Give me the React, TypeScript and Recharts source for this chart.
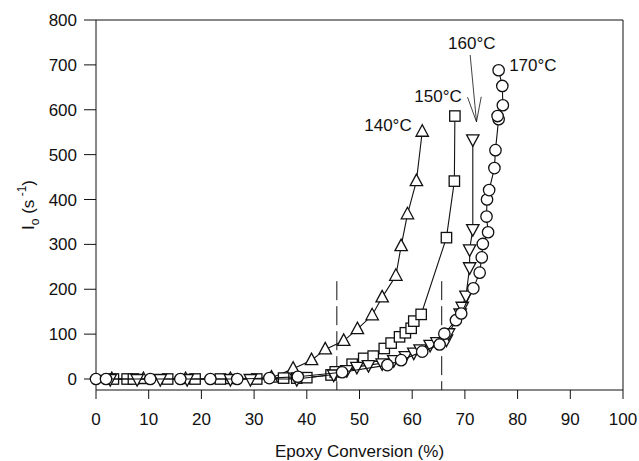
import {
  ScatterChart,
  Scatter,
  XAxis,
  YAxis,
  ReferenceLine,
  ReferenceDot,
} from "recharts";

// Epoxy conversion (%) and initial rate I0 (s^-1)
const x140 = [3.0, 9.0, 17.0, 25.5, 33.3, 37.4, 40.9, 43.5, 47.0, 49.6, 52.4, 54.3, 56.9, 57.9, 59.1, 60.8, 61.9];
const y140 = [0, 0, 0, 0, 3, 23, 42, 66, 85, 111, 142, 182, 230, 296, 367, 441, 551];

const x150 = [3.3, 5.9, 7.1, 13.6, 18.8, 23.6, 30.5, 35.6, 38.1, 40.0, 44.6, 45.4, 48.6, 50.8, 52.6, 54.7, 56.0, 57.6, 58.7, 59.8, 60.3, 61.7, 66.5, 68.0, 68.1];
const y150 = [0, 0, 0, 0, 0, 0, 0, 2, 2, 3, 9, 16, 33, 46, 51, 68, 80, 94, 103, 113, 129, 144, 315, 441, 586];

const x160 = [2.7, 7.8, 12.2, 17.3, 25.5, 29.3, 38.1, 45.1, 47.6, 49.5, 51.7, 54.3, 56.5, 58.7, 60.3, 61.5, 63.4, 64.7, 66.5, 66.9, 69.1, 69.5, 70.2, 70.9, 70.9, 71.5, 71.5];
const y160 = [0, 0, 0, 0, 0, 0, 0, 10, 20, 27, 31, 35, 42, 51, 59, 66, 76, 82, 88, 102, 146, 161, 186, 249, 289, 334, 534];

const x170 = [0, 1.9, 10.3, 16.0, 21.7, 26.8, 32.9, 38.3, 46.7, 55.3, 57.9, 61.9, 65.2, 66.1, 68.3, 69.3, 71.6, 72.8, 73.2, 73.4, 74.4, 74.1, 74.2, 74.6, 75.6, 75.8, 76.4, 76.2, 77.2, 77.1, 76.4];
const y170 = [0, 0, 0, 0, 0, 0, 2, 5, 15, 31, 42, 61, 77, 101, 131, 146, 202, 237, 271, 301, 327, 362, 400, 421, 470, 510, 579, 586, 610, 653, 688];

const xTicks = [0, 10, 20, 30, 40, 50, 60, 70, 80, 90, 100];
const yTicks = [0, 100, 200, 300, 400, 500, 600, 700, 800];

const tempLabels = ["140°C", "150°C", "160°C", "170°C"];
const tempLabelX = [55.4, 64.9, 71.3, 82.9];
const tempLabelY = [566, 631, 749, 700];

// dashed guide lines at the two conversion limits
const guideX = [45.7, 65.6];
const guideTop = 218;

const zip = (xs: number[], ys: number[]) => xs.map((x, i) => ({ x, y: ys[i] }));

const FONT = "'Liberation Sans', Arial, sans-serif";
const INK = "#111";
const MW = 1.3;

type ShapeProps = { cx?: number; cy?: number };

const TriUp = ({ cx = 0, cy = 0 }: ShapeProps) => (
  <polygon
    points={`${cx},${cy - 7} ${cx - 6.2},${cy + 4.5} ${cx + 6.2},${cy + 4.5}`}
    fill="#fff"
    stroke={INK}
    strokeWidth={MW}
  />
);
const TriDown = ({ cx = 0, cy = 0 }: ShapeProps) => (
  <polygon
    points={`${cx - 6.2},${cy - 4.5} ${cx + 6.2},${cy - 4.5} ${cx},${cy + 7}`}
    fill="#fff"
    stroke={INK}
    strokeWidth={MW}
  />
);
const Square = ({ cx = 0, cy = 0 }: ShapeProps) => (
  <rect x={cx - 5.2} y={cy - 5.2} width={10.4} height={10.4} fill="#fff" stroke={INK} strokeWidth={MW} />
);
const Circle = ({ cx = 0, cy = 0 }: ShapeProps) => (
  <circle cx={cx} cy={cy} r={5.7} fill="#fff" stroke={INK} strokeWidth={MW} />
);

const lineStyle = { stroke: INK, strokeWidth: 1.1 };

export default function App() {
  return (
    <div style={{ position: "absolute", left: 0, top: 0, background: "#fff" }}>
      <ScatterChart
        width={639}
        height={461}
        margin={{ top: 20, right: 16, bottom: 0, left: 0 }}
        style={{ fontFamily: FONT }}
      >
        <XAxis
          type="number"
          dataKey="x"
          domain={[0, 100]}
          ticks={xTicks}
          height={71}
          tickSize={9}
          tickMargin={14}
          stroke={INK}
          tick={{ fill: INK, fontSize: 17 }}
          label={{
            value: "Epoxy Conversion (%)",
            position: "insideBottom",
            offset: 4,
            fill: INK,
            fontSize: 17,
          }}
        />
        <YAxis
          type="number"
          dataKey="y"
          domain={[-24.5, 800]}
          ticks={yTicks}
          width={96}
          tickSize={12}
          tickMargin={7}
          stroke={INK}
          tick={{ fill: INK, fontSize: 17 }}
          label={{
            content: () => (
              <text
                x={34}
                y={205}
                transform="rotate(-90, 34, 205)"
                textAnchor="middle"
                fontSize={17}
                fill={INK}
                fontFamily={FONT}
              >
                <tspan>I</tspan>
                <tspan fontSize={12} dy={5}>o</tspan>
                <tspan dy={-5}> (s</tspan>
                <tspan fontSize={12} dy={-8}> -1</tspan>
                <tspan dy={8}>)</tspan>
              </text>
            ),
          }}
        />
        <ReferenceLine y={800} stroke={INK} strokeWidth={1} />
        <ReferenceLine x={100} stroke={INK} strokeWidth={1} />
        {guideX.map((gx) => (
          <ReferenceLine
            key={gx}
            segment={[
              { x: gx, y: guideTop },
              { x: gx, y: -24.5 },
            ]}
            stroke={INK}
            strokeWidth={1}
            strokeDasharray="19 6"
          />
        ))}
        {/* arrow pointing at the 160°C curve */}
        <ReferenceLine segment={[{ x: 71.0, y: 722 }, { x: 72.2, y: 573 }]} stroke={INK} strokeWidth={0.8} />
        <ReferenceLine segment={[{ x: 70.5, y: 628 }, { x: 72.2, y: 573 }]} stroke={INK} strokeWidth={0.8} />
        <ReferenceLine segment={[{ x: 73.1, y: 629 }, { x: 72.2, y: 573 }]} stroke={INK} strokeWidth={0.8} />
        {tempLabels.map((t, i) => (
          <ReferenceDot
            key={t}
            x={tempLabelX[i]}
            y={tempLabelY[i]}
            r={0}
            stroke="none"
            label={{ value: t, position: "center", fill: INK, fontSize: 17 }}
          />
        ))}
        <Scatter data={zip(x140, y140)} line={lineStyle} shape={TriUp} isAnimationActive={false} />
        <Scatter data={zip(x150, y150)} line={lineStyle} shape={Square} isAnimationActive={false} />
        <Scatter data={zip(x160, y160)} line={lineStyle} shape={TriDown} isAnimationActive={false} />
        <Scatter data={zip(x170, y170)} line={lineStyle} shape={Circle} isAnimationActive={false} />
      </ScatterChart>
    </div>
  );
}
